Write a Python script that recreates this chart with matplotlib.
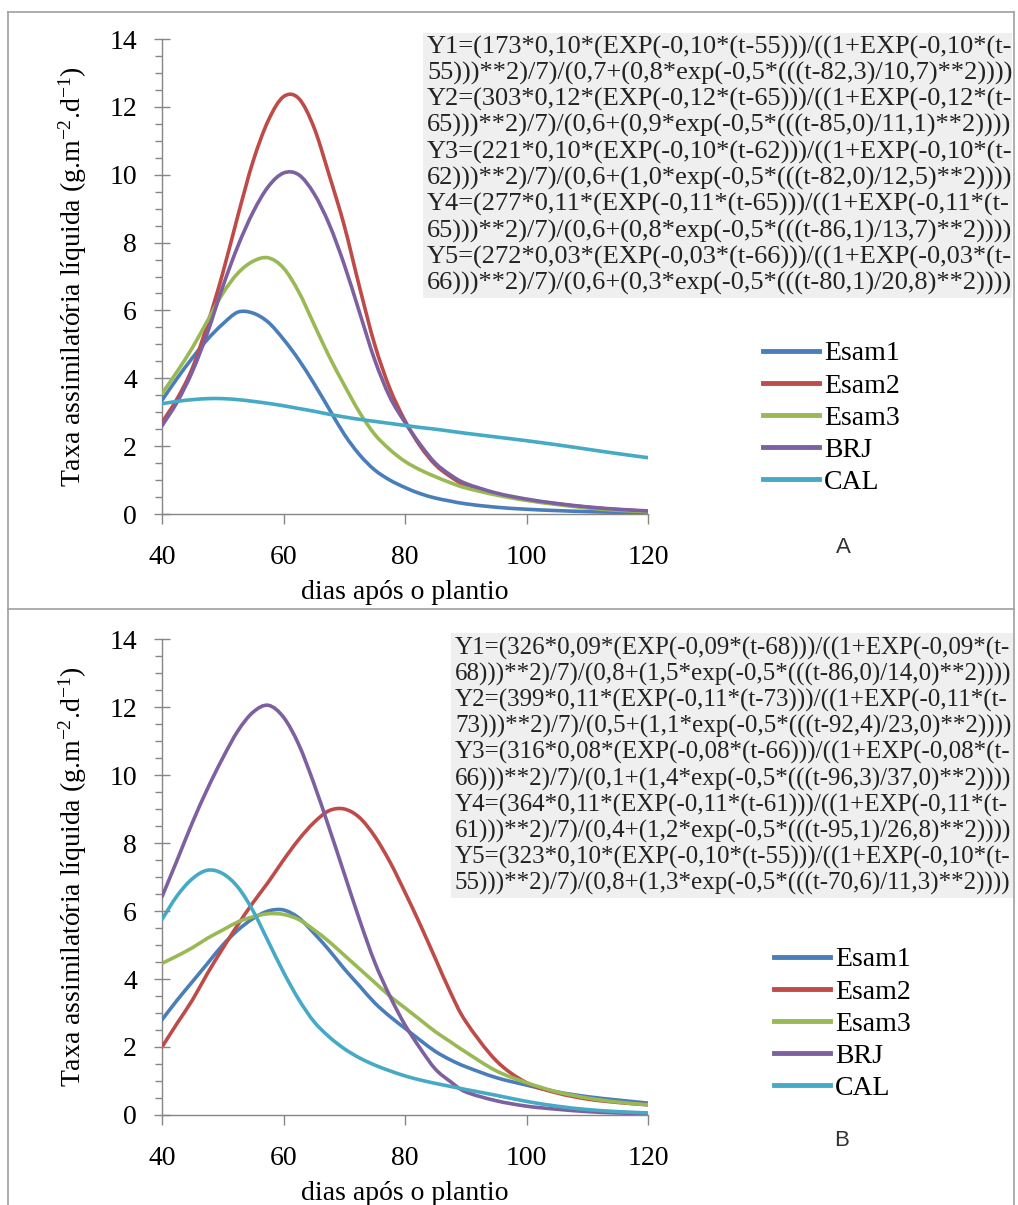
import matplotlib
matplotlib.use("Agg")
import matplotlib.pyplot as plt
from matplotlib.ticker import MultipleLocator
from matplotlib.lines import Line2D
from matplotlib.patches import Rectangle, PathPatch
from matplotlib.path import Path

W, H = 1018, 1205

plt.rcParams['font.family'] = ['Liberation Serif', 'DejaVu Serif']
plt.rcParams['mathtext.fontset'] = 'custom'
plt.rcParams['mathtext.rm'] = 'Liberation Serif'
plt.rcParams['mathtext.it'] = 'Liberation Serif:italic'

# valores (dias apos o plantio)
dias = [40, 42.5, 45, 47.5, 50, 52.5, 55, 57.5, 60, 62.5, 65, 67.5, 70, 72.5,
        75, 77.5, 80, 82.5, 85, 87.5, 90, 95, 100, 105, 110, 115, 120]

# painel A
esam1_a = [3.35, 4.0, 4.6, 5.15, 5.6, 5.95, 5.92, 5.65, 5.15, 4.55, 3.85, 3.1, 2.35, 1.75,
           1.3, 1.0, 0.78, 0.6, 0.47, 0.38, 0.3, 0.2, 0.14, 0.1, 0.07, 0.05, 0.03]
esam2_a = [2.7, 3.4, 4.3, 5.6, 7.1, 8.8, 10.4, 11.6, 12.3, 12.25, 11.4, 10.0, 8.5, 6.7,
           5.0, 3.7, 2.75, 2.0, 1.45, 1.1, 0.85, 0.6, 0.42, 0.3, 0.2, 0.13, 0.08]
esam3_a = [3.55, 4.2, 4.9, 5.7, 6.5, 7.1, 7.45, 7.55, 7.25, 6.55, 5.6, 4.65, 3.8, 3.0,
           2.35, 1.9, 1.55, 1.3, 1.1, 0.92, 0.77, 0.56, 0.4, 0.28, 0.18, 0.11, 0.07]
brj_a = [2.6, 3.3, 4.2, 5.35, 6.7, 7.9, 8.9, 9.65, 10.05, 10.0, 9.45, 8.55, 7.35, 5.95,
         4.55, 3.45, 2.7, 2.05, 1.5, 1.15, 0.9, 0.62, 0.44, 0.31, 0.21, 0.14, 0.09]
cal_a = [3.25, 3.32, 3.37, 3.4, 3.4, 3.37, 3.32, 3.26, 3.19, 3.11, 3.03, 2.94, 2.86, 2.79,
         2.73, 2.67, 2.61, 2.55, 2.5, 2.44, 2.38, 2.27, 2.16, 2.04, 1.91, 1.78, 1.66]

# painel B
esam1_b = [2.8, 3.38, 3.92, 4.46, 5.0, 5.44, 5.78, 6.0, 6.03, 5.8, 5.35, 4.85, 4.3, 3.8,
           3.3, 2.9, 2.55, 2.2, 1.87, 1.62, 1.42, 1.1, 0.88, 0.68, 0.54, 0.44, 0.35]
esam2_b = [2.0, 2.7, 3.38, 4.17, 4.9, 5.6, 6.25, 6.85, 7.5, 8.1, 8.6, 8.95, 9.0, 8.75,
           8.2, 7.45, 6.55, 5.6, 4.6, 3.6, 2.75, 1.6, 0.95, 0.65, 0.47, 0.37, 0.3]
esam3_b = [4.46, 4.68, 4.92, 5.2, 5.44, 5.68, 5.83, 5.92, 5.9, 5.75, 5.45, 5.1, 4.7, 4.3,
           3.9, 3.5, 3.15, 2.8, 2.45, 2.15, 1.85, 1.3, 0.95, 0.68, 0.5, 0.38, 0.3]
brj_b = [6.42, 7.5, 8.6, 9.6, 10.5, 11.3, 11.85, 12.05, 11.7, 10.9, 9.75, 8.45, 7.1, 5.75,
         4.5, 3.5, 2.65, 1.96, 1.35, 0.98, 0.68, 0.42, 0.26, 0.17, 0.1, 0.06, 0.04]
cal_b = [5.75, 6.45, 6.95, 7.2, 7.1, 6.7, 6.0, 5.1, 4.2, 3.4, 2.75, 2.3, 1.95, 1.68,
         1.47, 1.3, 1.15, 1.03, 0.93, 0.84, 0.75, 0.58, 0.4, 0.26, 0.16, 0.1, 0.06]

nomes = ['Esam1', 'Esam2', 'Esam3', 'BRJ', 'CAL']
cores = ['#4a7ebb', '#be4b48', '#98b954', '#7d60a0', '#46aac5']

eq_a = [
    "Y1=(173*0,10*(EXP(-0,10*(t-55)))/((1+EXP(-0,10*(t-",
    "55)))**2)/7)/(0,7+(0,8*exp(-0,5*(((t-82,3)/10,7)**2))))",
    "Y2=(303*0,12*(EXP(-0,12*(t-65)))/((1+EXP(-0,12*(t-",
    "65)))**2)/7)/(0,6+(0,9*exp(-0,5*(((t-85,0)/11,1)**2))))",
    "Y3=(221*0,10*(EXP(-0,10*(t-62)))/((1+EXP(-0,10*(t-",
    "62)))**2)/7)/(0,6+(1,0*exp(-0,5*(((t-82,0)/12,5)**2))))",
    "Y4=(277*0,11*(EXP(-0,11*(t-65)))/((1+EXP(-0,11*(t-",
    "65)))**2)/7)/(0,6+(0,8*exp(-0,5*(((t-86,1)/13,7)**2))))",
    "Y5=(272*0,03*(EXP(-0,03*(t-66)))/((1+EXP(-0,03*(t-",
    "66)))**2)/7)/(0,6+(0,3*exp(-0,5*(((t-80,1)/20,8)**2))))",
]
eq_b = [
    "Y1=(326*0,09*(EXP(-0,09*(t-68)))/((1+EXP(-0,09*(t-",
    "68)))**2)/7)/(0,8+(1,5*exp(-0,5*(((t-86,0)/14,0)**2))))",
    "Y2=(399*0,11*(EXP(-0,11*(t-73)))/((1+EXP(-0,11*(t-",
    "73)))**2)/7)/(0,5+(1,1*exp(-0,5*(((t-92,4)/23,0)**2))))",
    "Y3=(316*0,08*(EXP(-0,08*(t-66)))/((1+EXP(-0,08*(t-",
    "66)))**2)/7)/(0,1+(1,4*exp(-0,5*(((t-96,3)/37,0)**2))))",
    "Y4=(364*0,11*(EXP(-0,11*(t-61)))/((1+EXP(-0,11*(t-",
    "61)))**2)/7)/(0,4+(1,2*exp(-0,5*(((t-95,1)/26,8)**2))))",
    "Y5=(323*0,10*(EXP(-0,10*(t-55)))/((1+EXP(-0,10*(t-",
    "55)))**2)/7)/(0,8+(1,3*exp(-0,5*(((t-70,6)/11,3)**2))))",
]

cinza = '#868686'
fig = plt.figure(figsize=(W / 100, H / 100), dpi=100)


def linha_suave(ax, xs, ys, cor):
    # linha suavizada como no Excel: bezier passando pelos pontos
    n = len(xs)
    verts = [(xs[0], ys[0])]
    codes = [Path.MOVETO]
    for i in range(n - 1):
        x0, y0 = (xs[i - 1], ys[i - 1]) if i > 0 else (xs[i], ys[i])
        x1, y1 = xs[i], ys[i]
        x2, y2 = xs[i + 1], ys[i + 1]
        x3, y3 = (xs[i + 2], ys[i + 2]) if i + 2 < n else (x2, y2)
        c1 = (x1 + (x2 - x0) / 6, y1 + (y2 - y0) / 6)
        c2 = (x2 - (x3 - x1) / 6, y2 - (y3 - y1) / 6)
        verts += [c1, c2, (x2, y2)]
        codes += [Path.CURVE4] * 3
    ax.add_patch(PathPatch(Path(verts, codes), facecolor='none', edgecolor=cor,
                           lw=2.6, capstyle='round', joinstyle='round'))


def painel(ax, series, y_top_leg, x_leg):
    for vals, cor in zip(series, cores):
        linha_suave(ax, dias, vals, cor)
    ax.set_xlim(40, 120)
    ax.set_ylim(0, 14)
    for s in ['top', 'right']:
        ax.spines[s].set_visible(False)
    for s in ['left', 'bottom']:
        ax.spines[s].set_color(cinza)
        ax.spines[s].set_linewidth(1.0)
        ax.spines[s].set_zorder(0.5)
    ax.xaxis.set_major_locator(MultipleLocator(20))
    ax.yaxis.set_major_locator(MultipleLocator(2))
    ax.yaxis.set_minor_locator(MultipleLocator(0.5))
    ax.tick_params(axis='y', which='major', direction='inout', length=12, width=1,
                   color=cinza, labelsize=20, pad=12)
    ax.tick_params(axis='y', which='minor', direction='out', length=5, width=1, color=cinza)
    ax.tick_params(axis='x', which='major', direction='out', length=7, width=1,
                   color=cinza, labelsize=20, pad=15)
    ax.set_ylabel('Taxa assimilatória líquida (g.m$^{-2}$.d$^{-1}$)', fontsize=20)
    ax.yaxis.set_label_coords(-0.150, 0.5)
    ax.set_xlabel('dias após o plantio', fontsize=20)
    ax.xaxis.set_label_coords(0.5, -0.138)
    handles = [Line2D([], [], color=c, lw=3.5) for c in cores]
    ax.legend(handles, nomes, loc='upper left', bbox_to_anchor=(x_leg / W, 1 - y_top_leg / H),
              bbox_transform=fig.transFigure, frameon=False, fontsize=20,
              handlelength=2.0, handletextpad=0.2, labelspacing=0.24,
              borderpad=0, borderaxespad=0)


ax_a = fig.add_axes([162 / W, 1 - 514 / H, 486 / W, 475 / H])
painel(ax_a, [esam1_a, esam2_a, esam3_a, brj_a, cal_a], 341, 763)
ax_b = fig.add_axes([162 / W, 1 - 1115 / H, 486 / W, 476 / H])
painel(ax_b, [esam1_b, esam2_b, esam3_b, brj_b, cal_b], 947, 774)

# caixas das equacoes
fig.add_artist(Rectangle((423 / W, 1 - 298 / H), 589 / W, 265 / H, transform=fig.transFigure,
                         facecolor='#efefef', edgecolor='none', zorder=2))
fig.add_artist(Rectangle((451 / W, 1 - 898 / H), 562 / W, 265 / H, transform=fig.transFigure,
                         facecolor='#efefef', edgecolor='none', zorder=2))
for i, linha in enumerate(eq_a):
    fig.text(427 / W, 1 - (47 + i * 26.3) / H, linha, fontsize=19, ha='left', va='center',
             color='#222222', zorder=3)
for i, linha in enumerate(eq_b):
    fig.text(455 / W, 1 - (648 + i * 26.2) / H, linha, fontsize=18, ha='left', va='center',
             color='#222222', zorder=3)

fig.text(843 / W, 1 - 548 / H, 'A', fontsize=16, family='Liberation Sans', ha='center',
         va='center', color='#333333')
fig.text(842 / W, 1 - 1140 / H, 'B', fontsize=16, family='Liberation Sans', ha='center',
         va='center', color='#333333')

# moldura
borda = '#a0a0a0'
xl, xr, yt, ym = 8 / W, 1014 / W, 1 - 12 / H, 1 - 609 / H
for xs, ys in [([xl, xr], [yt, yt]), ([xl, xr], [ym, ym]), ([xl, xl], [0, yt]), ([xr, xr], [0, yt])]:
    fig.add_artist(Line2D(xs, ys, transform=fig.transFigure, color=borda, lw=1.2))

fig.savefig('out.png', dpi=100)
